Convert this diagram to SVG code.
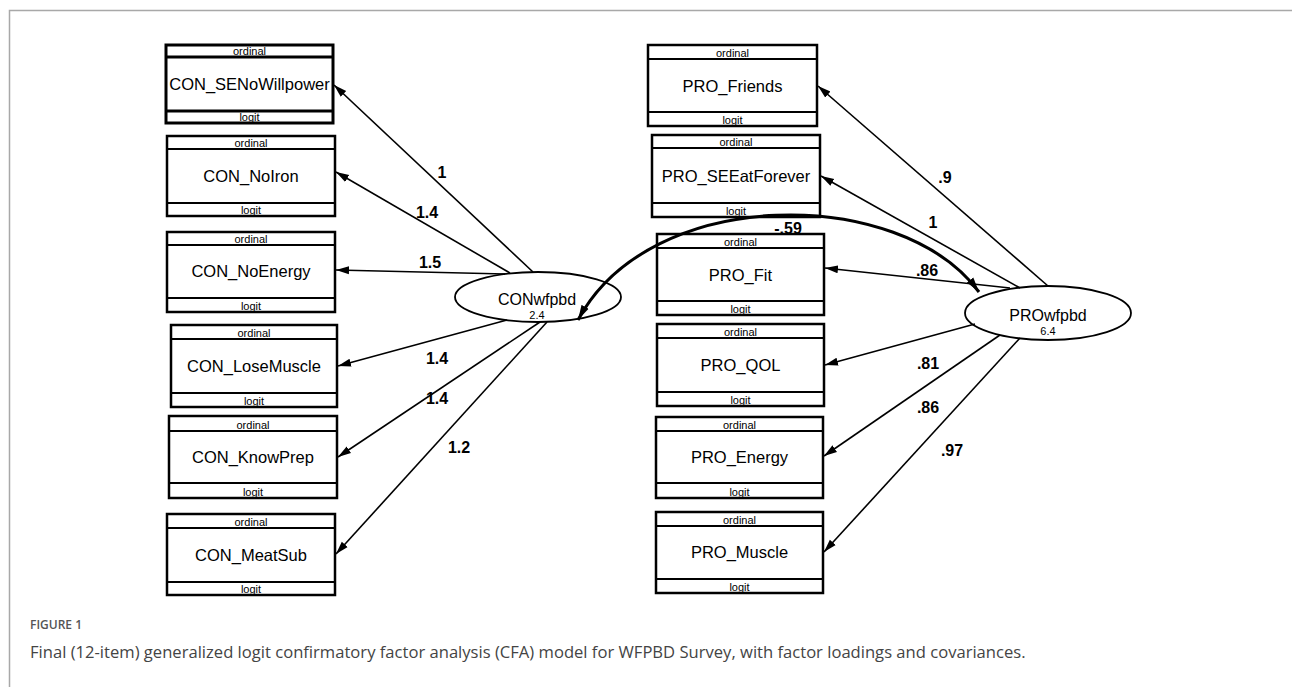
<svg xmlns="http://www.w3.org/2000/svg" width="1292" height="687" viewBox="0 0 1292 687">
<style>
.box{fill:#fff;stroke:#000;stroke-width:2.5}
.sep{stroke:#000;stroke-width:2}
.sm{font-family:"Liberation Sans",Arial,sans-serif;font-size:11px;fill:#000;text-anchor:middle}
.nm{font-family:"Liberation Sans",Arial,sans-serif;font-size:16.5px;fill:#000;text-anchor:middle}
.lv{font-family:"Liberation Sans",Arial,sans-serif;font-size:16px;fill:#000;text-anchor:middle}
.lb{font-family:"Liberation Sans",Arial,sans-serif;font-size:16px;font-weight:bold;fill:#000;text-anchor:middle}
.ar{stroke:#000;stroke-width:1.6;fill:none;marker-end:url(#ah)}
.el{fill:#fff;stroke:#000;stroke-width:1.8}
</style>
<defs>
<marker id="ah" markerUnits="userSpaceOnUse" markerWidth="14" markerHeight="10" refX="13" refY="5" orient="auto">
<path d="M0,1 L13,5 L0,9 Z" fill="#000"/>
</marker>
<marker id="ah2" markerUnits="userSpaceOnUse" markerWidth="16" markerHeight="10" refX="15" refY="5" orient="auto-start-reverse">
<path d="M0,1 L15,5 L0,9 Z" fill="#000"/>
</marker>
</defs>
<rect width="1292" height="687" fill="#fff"/>
<path d="M9.5,687 V10.5 H1292" fill="none" stroke="#a8a8a8" stroke-width="1.5"/>

<g id="CON_SENoWillpower">
<rect class="box" x="166" y="45" width="167" height="78" style="stroke-width:3"/>
<line class="sep" x1="166" y1="57" x2="333" y2="57" style="stroke-width:3"/>
<line class="sep" x1="166" y1="111" x2="333" y2="111" style="stroke-width:3"/>
<text class="sm" x="249.5" y="55">ordinal</text>
<text class="nm" x="249.5" y="90">CON_SENoWillpower</text>
<text class="sm" x="249.5" y="121">logit</text>
</g>
<g id="CON_NoIron">
<rect class="box" x="167" y="136" width="168" height="80"/>
<line class="sep" x1="167" y1="149" x2="335" y2="149"/>
<line class="sep" x1="167" y1="203" x2="335" y2="203"/>
<text class="sm" x="251" y="147">ordinal</text>
<text class="nm" x="251" y="182">CON_NoIron</text>
<text class="sm" x="251" y="214">logit</text>
</g>
<g id="CON_NoEnergy">
<rect class="box" x="167" y="232" width="168" height="80"/>
<line class="sep" x1="167" y1="245" x2="335" y2="245"/>
<line class="sep" x1="167" y1="298" x2="335" y2="298"/>
<text class="sm" x="251" y="243">ordinal</text>
<text class="nm" x="251" y="277">CON_NoEnergy</text>
<text class="sm" x="251" y="310">logit</text>
</g>
<g id="CON_LoseMuscle">
<rect class="box" x="171" y="325" width="166" height="82"/>
<line class="sep" x1="171" y1="339" x2="337" y2="339"/>
<line class="sep" x1="171" y1="393" x2="337" y2="393"/>
<text class="sm" x="254" y="337">ordinal</text>
<text class="nm" x="254" y="372">CON_LoseMuscle</text>
<text class="sm" x="254" y="405">logit</text>
</g>
<g id="CON_KnowPrep">
<rect class="box" x="169" y="416" width="168" height="82"/>
<line class="sep" x1="169" y1="431" x2="337" y2="431"/>
<line class="sep" x1="169" y1="483" x2="337" y2="483"/>
<text class="sm" x="253" y="429">ordinal</text>
<text class="nm" x="253" y="463">CON_KnowPrep</text>
<text class="sm" x="253" y="496">logit</text>
</g>
<g id="CON_MeatSub">
<rect class="box" x="167" y="514" width="168" height="81"/>
<line class="sep" x1="167" y1="528" x2="335" y2="528"/>
<line class="sep" x1="167" y1="582" x2="335" y2="582"/>
<text class="sm" x="251" y="526">ordinal</text>
<text class="nm" x="251" y="561">CON_MeatSub</text>
<text class="sm" x="251" y="593">logit</text>
</g>

<g id="PRO_Friends">
<rect class="box" x="648" y="45" width="169" height="81"/>
<line class="sep" x1="648" y1="59" x2="817" y2="59"/>
<line class="sep" x1="648" y1="112" x2="817" y2="112"/>
<text class="sm" x="732.5" y="57">ordinal</text>
<text class="nm" x="732.5" y="92">PRO_Friends</text>
<text class="sm" x="732.5" y="124">logit</text>
</g>
<g id="PRO_SEEatForever">
<rect class="box" x="652" y="135" width="168" height="82"/>
<line class="sep" x1="652" y1="148" x2="820" y2="148"/>
<line class="sep" x1="652" y1="203" x2="820" y2="203"/>
<text class="sm" x="736" y="146">ordinal</text>
<text class="nm" x="736" y="182">PRO_SEEatForever</text>
<text class="sm" x="736" y="215">logit</text>
</g>
<g id="PRO_Fit">
<rect class="box" x="657" y="234" width="167" height="81"/>
<line class="sep" x1="657" y1="248" x2="824" y2="248"/>
<line class="sep" x1="657" y1="301" x2="824" y2="301"/>
<text class="sm" x="740.5" y="246">ordinal</text>
<text class="nm" x="740.5" y="281">PRO_Fit</text>
<text class="sm" x="740.5" y="313">logit</text>
</g>
<g id="PRO_QOL">
<rect class="box" x="657" y="324" width="167" height="82"/>
<line class="sep" x1="657" y1="338" x2="824" y2="338"/>
<line class="sep" x1="657" y1="392" x2="824" y2="392"/>
<text class="sm" x="740.5" y="336">ordinal</text>
<text class="nm" x="740.5" y="371">PRO_QOL</text>
<text class="sm" x="740.5" y="404">logit</text>
</g>
<g id="PRO_Energy">
<rect class="box" x="656" y="417" width="167" height="81"/>
<line class="sep" x1="656" y1="431" x2="823" y2="431"/>
<line class="sep" x1="656" y1="483" x2="823" y2="483"/>
<text class="sm" x="739.5" y="429">ordinal</text>
<text class="nm" x="739.5" y="463">PRO_Energy</text>
<text class="sm" x="739.5" y="496">logit</text>
</g>
<g id="PRO_Muscle">
<rect class="box" x="656" y="512" width="167" height="81"/>
<line class="sep" x1="656" y1="526" x2="823" y2="526"/>
<line class="sep" x1="656" y1="579" x2="823" y2="579"/>
<text class="sm" x="739.5" y="524">ordinal</text>
<text class="nm" x="739.5" y="558">PRO_Muscle</text>
<text class="sm" x="739.5" y="591">logit</text>
</g>

<g id="CONwfpbd">
<ellipse class="el" cx="538" cy="297" rx="83" ry="25"/>
<text class="lv" x="537" y="305">CONwfpbd</text>
<text class="sm" x="537" y="319">2.4</text>
</g>
<g id="PROwfpbd">
<ellipse class="el" cx="1048" cy="313" rx="83" ry="27"/>
<text class="lv" x="1048" y="321">PROwfpbd</text>
<text class="sm" x="1048" y="335">6.4</text>
</g>

<g id="connectors">
<line class="ar" x1="533" y1="272" x2="334" y2="85"/>
<line class="ar" x1="510" y1="273" x2="336" y2="172"/>
<line class="ar" x1="505" y1="274" x2="336" y2="270"/>
<line class="ar" x1="507" y1="320" x2="338" y2="366"/>
<line class="ar" x1="540" y1="322" x2="338" y2="457"/>
<line class="ar" x1="547" y1="322" x2="336" y2="554"/>
<line class="ar" x1="1048" y1="286" x2="818" y2="86"/>
<line class="ar" x1="1020" y1="288" x2="821" y2="176"/>
<line class="ar" x1="1010" y1="288" x2="825" y2="268"/>
<line class="ar" x1="975" y1="324" x2="825" y2="365"/>
<line class="ar" x1="1000" y1="335" x2="824" y2="456"/>
<line class="ar" x1="1020" y1="338" x2="824" y2="552"/>
<path d="M979,292 C900,185 650,185 578,320" fill="none" stroke="#000" stroke-width="3" marker-start="url(#ah2)" marker-end="url(#ah2)"/>
<text class="lb" x="442" y="178">1</text>
<text class="lb" x="427" y="218">1.4</text>
<text class="lb" x="430" y="268">1.5</text>
<text class="lb" x="437" y="364">1.4</text>
<text class="lb" x="437" y="404">1.4</text>
<text class="lb" x="459" y="453">1.2</text>
<text class="lb" x="945" y="183">.9</text>
<text class="lb" x="933" y="228">1</text>
<text class="lb" x="927" y="276">.86</text>
<text class="lb" x="928" y="369">.81</text>
<text class="lb" x="928" y="413">.86</text>
<text class="lb" x="952" y="456">.97</text>
<text class="lb" x="788" y="234">-.59</text>
</g>

<text x="30" y="629" font-family="'Open Sans',sans-serif" font-size="12" font-weight="600" fill="#555">FIGURE 1</text>
<text x="30" y="658" font-family="'Open Sans',sans-serif" font-size="16.6" fill="#444">Final (12-item) generalized logit confirmatory factor analysis (CFA) model for WFPBD Survey, with factor loadings and covariances.</text>
</svg>
